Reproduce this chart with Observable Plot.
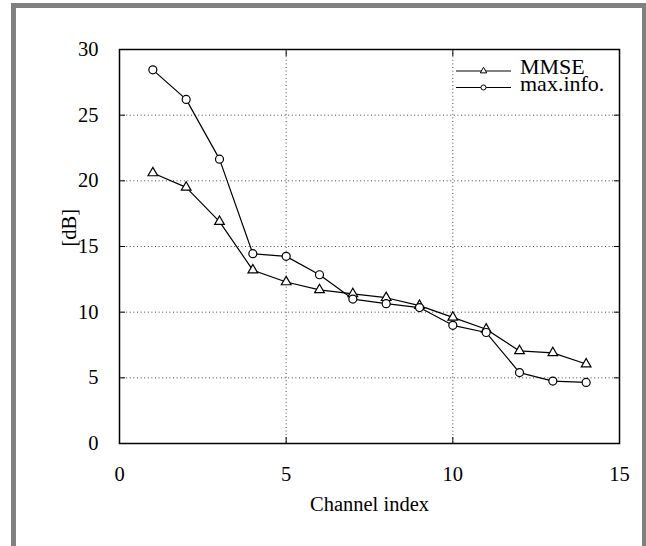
<!DOCTYPE html>
<html>
<head>
<meta charset="utf-8">
<script src="https://cdn.jsdelivr.net/npm/d3@7"></script>
<script src="https://cdn.jsdelivr.net/npm/@observablehq/plot@0.6"></script>
<style>
  html, body { margin: 0; padding: 0; background: white; overflow: hidden; }
  #wrap { position: relative; width: 646px; height: 546px; }
  #border { position: absolute; left: 11px; top: 3px; width: 636px; height: 600px;
            box-sizing: border-box; border: 5px solid #808080; border-bottom: none; pointer-events: none; }
</style>
</head>
<body>
<div id="wrap"><div id="chart"></div><div id="border"></div></div>
<script>
const channels = [1, 2, 3, 4, 5, 6, 7, 8, 9, 10, 11, 12, 13, 14];
const mmse     = [20.6, 19.5, 16.9, 13.2, 12.3, 11.7, 11.4, 11.1, 10.5, 9.6, 8.7, 7.05, 6.9, 6.05];
const maxInfo  = [28.45, 26.2, 21.65, 14.45, 14.25, 12.85, 11.0, 10.65, 10.35, 9.0, 8.45, 5.4, 4.75, 4.65];
const xTicks = [0, 5, 10, 15];
const yTicks = [0, 5, 10, 15, 20, 25, 30];
const xGrid = [5, 10];
const yGrid = [5, 10, 15, 20, 25];
const seriesNames = ["MMSE", "max.info."];

const rowsMMSE = channels.map((c, i) => ({x: c, y: mmse[i]}));
const rowsInfo = channels.map((c, i) => ({x: c, y: maxInfo[i]}));

const font = "Liberation Serif";
const dotted = {stroke: "#444", strokeOpacity: 1, strokeWidth: 1, strokeDasharray: "1,2.6"};
const txt = {fontFamily: font, fontVariant: "normal", fontSize: 20.5, fill: "black"};

const chart = Plot.plot({
  width: 646,
  height: 546,
  marginLeft: 119,
  marginRight: 27,
  marginTop: 49,
  marginBottom: 103,
  x: {domain: [0, 15]},
  y: {domain: [0, 30]},
  style: {fontFamily: font, fontSize: "20px", background: "transparent", color: "black", overflow: "visible"},
  marks: [
    Plot.gridX(xGrid, dotted),
    Plot.gridY(yGrid, dotted),
    // inward ticks on all four sides
    Plot.axisX(xTicks, {anchor: "bottom", tickSize: 6, dy: -6, tickFormat: () => "", label: null, stroke: "black"}),
    Plot.axisX(xTicks, {anchor: "top", tickSize: 6, dy: 6, tickFormat: () => "", label: null, stroke: "black"}),
    Plot.axisY(yTicks, {anchor: "left", tickSize: 6, dx: 6, tickFormat: () => "", label: null, stroke: "black"}),
    Plot.axisY(yTicks, {anchor: "right", tickSize: 6, dx: -6, tickFormat: () => "", label: null, stroke: "black"}),
    // tick labels
    Plot.axisX(xTicks, {anchor: "bottom", tickSize: 0, tickPadding: 23, label: null, ...txt}),
    Plot.axisY(yTicks, {anchor: "left", tickSize: 0, tickPadding: 21, label: null, ...txt}),
    Plot.frame({stroke: "black", strokeWidth: 1.5}),
    Plot.text(["Channel index"], {frameAnchor: "bottom", dy: 67, ...txt}),
    Plot.text(["[dB]"], {frameAnchor: "left", dx: -50, rotate: -90, ...txt}),
    Plot.line(rowsMMSE, {x: "x", y: "y", stroke: "black", strokeWidth: 1.2}),
    Plot.line(rowsInfo, {x: "x", y: "y", stroke: "black", strokeWidth: 1.2}),
    Plot.dot(rowsMMSE, {x: "x", y: "y", symbol: "triangle", r: 3.6, stroke: "black", fill: "white", strokeWidth: 1.2}),
    Plot.dot(rowsInfo, {x: "x", y: "y", symbol: "circle", r: 4, stroke: "black", fill: "white", strokeWidth: 1.2})
  ]
});
document.getElementById("chart").appendChild(chart);

// legend (top-right inside plot)
const svg = d3.select(chart);
const lg = svg.append("g").attr("font-family", font).attr("font-size", 22).attr("text-anchor", "start");
const rows = [
  {name: seriesNames[0], sym: d3.symbolTriangle, size: 18, y: 71},
  {name: seriesNames[1], sym: d3.symbolCircle, size: 20, y: 87.5}
];
rows.forEach(r => {
  lg.append("line").attr("x1", 456).attr("x2", 511).attr("y1", r.y).attr("y2", r.y)
    .attr("stroke", "black").attr("stroke-width", 1.2);
  lg.append("path").attr("d", d3.symbol(r.sym, r.size)()).attr("transform", `translate(483.5,${r.y})`)
    .attr("fill", "white").attr("stroke", "black").attr("stroke-width", 1);
  lg.append("text").attr("x", 520).attr("y", r.y + 3.4).attr("text-anchor", "start").text(r.name).attr("fill", "black");
});
</script>
</body>
</html>
